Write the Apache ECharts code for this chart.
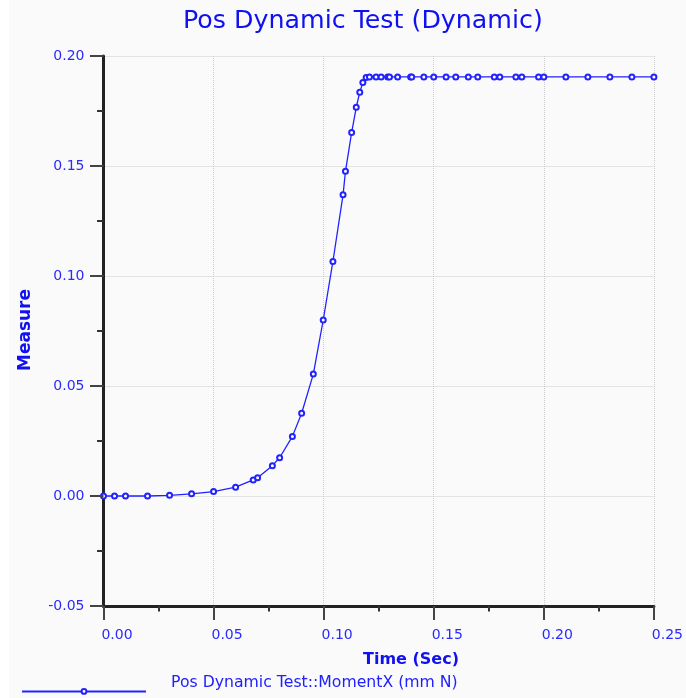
<!DOCTYPE html>
<html>
<head>
<meta charset="utf-8">
<script src="https://cdn.jsdelivr.net/npm/echarts@6/dist/echarts.min.js"></script>
<style>
html,body{margin:0;padding:0;background:#fafafa;}
#chart{width:686px;height:698px;}
</style>
</head>
<body>
<div id="chart"></div>
<script>
const titleText = 'Pos Dynamic Test (Dynamic)';
const xName = 'Time (Sec)';
const yName = 'Measure';
const seriesName = 'Pos Dynamic Test::MomentX (mm N)';

const timeSec = [0, 0.005, 0.010, 0.020, 0.030, 0.040, 0.050, 0.060, 0.068, 0.070,
  0.0767, 0.080, 0.0858, 0.090, 0.0953, 0.0998, 0.1042, 0.1088, 0.1099, 0.1127,
  0.1148, 0.1164, 0.1178, 0.1193, 0.1208, 0.1238, 0.1261, 0.1291, 0.1299, 0.1336,
  0.1395, 0.1400, 0.1455, 0.150, 0.1556, 0.160, 0.1657, 0.170, 0.1775, 0.180,
  0.1873, 0.190, 0.1976, 0.200, 0.210, 0.220, 0.230, 0.240, 0.250];
const measure = [0, 0, 0, 0, 0.0003, 0.001, 0.002, 0.004, 0.0073, 0.0083,
  0.0138, 0.0174, 0.0271, 0.0376, 0.0554, 0.0800, 0.1066, 0.1369, 0.1476, 0.1652,
  0.1767, 0.1835, 0.1879, 0.1902, 0.1905, 0.1905, 0.1905, 0.1905, 0.1905, 0.1905,
  0.1905, 0.1905, 0.1905, 0.1905, 0.1905, 0.1905, 0.1905, 0.1905, 0.1905, 0.1905,
  0.1905, 0.1905, 0.1905, 0.1905, 0.1905, 0.1905, 0.1905, 0.1905, 0.1905];

const xTicks = [0.00, 0.05, 0.10, 0.15, 0.20, 0.25];
const yTicks = [-0.05, 0.00, 0.05, 0.10, 0.15, 0.20];

const xMin = 0, xMax = 0.25, xStep = 0.05;
const yMin = -0.05, yMax = 0.20, yStep = 0.05;

const blue = '#2222ff';
const font = 'DejaVu Sans';
const majorTickColor = '#444';
const minorTickColor = '#333';

// tick marks (major = 1, minor = 0 at half steps between major ticks)
const xTickData = [];
xTicks.forEach((v, i) => {
  xTickData.push([v, 1, yMin]);
  if (i < xTicks.length - 1) xTickData.push([v + xStep / 2, 0, yMin]);
});
const yTickData = [];
yTicks.forEach((v, i) => {
  yTickData.push([xMin, v, 1]);
  if (i < yTicks.length - 1) yTickData.push([xMin, v + yStep / 2, 0]);
});

const chart = echarts.init(document.getElementById('chart'), null, {renderer: 'canvas'});
chart.setOption({
  backgroundColor: '#fafafa',
  animation: false,
  title: {
    text: titleText, left: 178, top: 4,
    textStyle: {fontFamily: font, fontSize: 25.3, fontWeight: 'normal', color: '#1010f0'}
  },
  grid: {left: 103.5, right: 31, top: 56, bottom: 92},
  legend: [{
    left: 21, top: 688, padding: 0,
    itemWidth: 124, itemHeight: 6,
    data: [seriesName],
    formatter: () => ''
  }, {
    left: 166, top: 674, padding: 0,
    itemWidth: 0, itemHeight: 18, icon: 'none',
    data: [seriesName],
    textStyle: {fontFamily: font, fontSize: 15.7, color: '#2020ff'}
  }],
  xAxis: {
    type: 'value', min: xMin, max: xMax, interval: xStep,
    axisLine: {show: true, onZero: false, lineStyle: {color: '#222', width: 3}},
    axisTick: {show: false},
    minorTick: {show: false},
    splitLine: {show: true, lineStyle: {color: '#cccccc', type: 'dotted', width: 1}},
    axisLabel: {
      fontFamily: font, fontSize: 14, color: '#2a2aff', margin: 22,
      align: 'center', padding: [0, 0, 0, 27],
      formatter: v => v.toFixed(2)
    }
  },
  yAxis: {
    type: 'value', min: yMin, max: yMax, interval: yStep,
    axisLine: {show: true, onZero: false, lineStyle: {color: '#222', width: 3}},
    axisTick: {show: false},
    minorTick: {show: false},
    splitLine: {show: true, lineStyle: {color: '#cccccc', type: 'dotted', width: 1}},
    axisLabel: {
      fontFamily: font, fontSize: 14, color: '#2a2aff', margin: 19,
      verticalAlign: 'middle', padding: [0, 0, 7, 0],
      formatter: v => v.toFixed(2)
    }
  },
  graphic: [
    {type: 'rect', left: 0, top: 0, shape: {width: 9, height: 698}, style: {fill: '#ffffff'}, z: -10},
    {type: 'text', left: 363, top: 652,
      style: {text: xName, fontFamily: font, fontSize: 16, fontWeight: 'bold', fill: '#1010f0'}},
    {type: 'text', x: 26, y: 330, rotation: Math.PI / 2,
      style: {text: yName, fontFamily: font, fontSize: 17, fontWeight: 'bold', fill: '#1010f0',
        align: 'center', verticalAlign: 'middle'}}
  ],
  series: [{
    name: seriesName, type: 'line',
    data: timeSec.map((t, i) => [t, measure[i]]),
    symbol: 'emptyCircle', symbolSize: 5,
    lineStyle: {color: blue, width: 1.3},
    itemStyle: {color: blue, borderColor: blue, borderWidth: 1},
    z: 5
  }, {
    name: 'xTicks', type: 'custom', clip: false, silent: true, z: 20,
    data: xTickData,
    encode: {x: 0, y: 2},
    renderItem: function (params, api) {
      const p = api.coord([api.value(0), api.value(2)]);
      const major = api.value(1) === 1;
      const len = major ? 14 : 5.5;
      return {type: 'rect', shape: {x: Math.round(p[0]) - 1, y: p[1], width: 2, height: len},
        style: {fill: major ? majorTickColor : minorTickColor}, silent: true};
    }
  }, {
    name: 'yTicks', type: 'custom', clip: false, silent: true, z: 20,
    data: yTickData,
    encode: {x: 0, y: 1},
    renderItem: function (params, api) {
      const p = api.coord([api.value(0), api.value(1)]);
      const major = api.value(2) === 1;
      const len = major ? 13.5 : 6.5;
      return {type: 'rect', shape: {x: p[0] - len, y: Math.round(p[1]) - 1, width: len, height: 2},
        style: {fill: major ? majorTickColor : minorTickColor}, silent: true};
    }
  }]
});
</script>
</body>
</html>
